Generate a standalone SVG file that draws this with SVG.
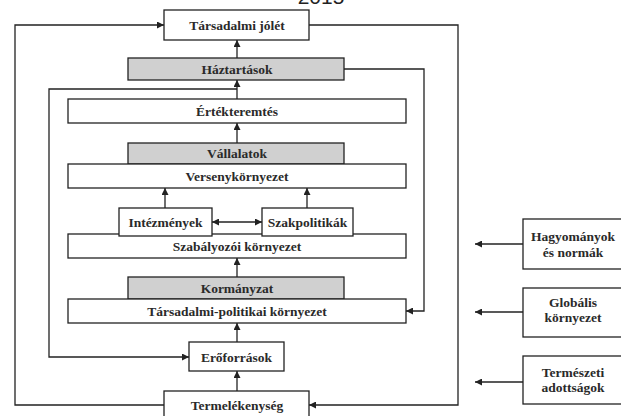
<svg xmlns="http://www.w3.org/2000/svg" width="621" height="416" viewBox="0 0 621 416">
<style>
.b{fill:#fff;stroke:#222;stroke-width:1.3}
.g{fill:#d0d0d0;stroke:#222;stroke-width:1.3}
.t{font-family:"Liberation Serif","DejaVu Serif",serif;font-size:13.5px;font-weight:bold;fill:#2a2a2a;text-anchor:middle}
.c{fill:none;stroke:#222;stroke-width:1.3}
</style>
<defs>
<marker id="a" viewBox="0 0 10 10" refX="10" refY="5" markerWidth="7" markerHeight="7" markerUnits="userSpaceOnUse" orient="auto-start-reverse">
<path d="M0,0 L10,5 L0,10 z" fill="#222"/>
</marker>
</defs>
<text x="321" y="4" font-family="Liberation Sans,Arial,sans-serif" font-size="21" fill="#222" text-anchor="middle">2015</text>
<g id="connectors">
<path class="c" d="M164,405 H15 V25 H164" marker-end="url(#a)"/>
<path class="c" d="M309,25 H458 V405 H309" marker-end="url(#a)"/>
<path class="c" d="M344,69 H424 V311 H406" marker-end="url(#a)"/>
<path class="c" d="M237,89 H49 V357 H189" marker-end="url(#a)"/>
<path class="c" d="M237,58 V40" marker-end="url(#a)"/>
<path class="c" d="M237,99 V80" marker-end="url(#a)"/>
<path class="c" d="M237,143 V123" marker-end="url(#a)"/>
<path class="c" d="M165,208 V188" marker-end="url(#a)"/>
<path class="c" d="M307,208 V188" marker-end="url(#a)"/>
<path class="c" d="M212,222 H262" marker-start="url(#a)" marker-end="url(#a)"/>
<path class="c" d="M237,277 V258" marker-end="url(#a)"/>
<path class="c" d="M237,342 V323" marker-end="url(#a)"/>
<path class="c" d="M237,391 V371" marker-end="url(#a)"/>
<path class="c" d="M523,244 H475" marker-end="url(#a)"/>
<path class="c" d="M523,312 H475" marker-end="url(#a)"/>
<path class="c" d="M523,382 H475" marker-end="url(#a)"/>
</g>
<g id="tarsadalmi-jolet"><rect class="b" x="164" y="10" width="145" height="30"/><text class="t" x="237" y="29.5">Társadalmi jólét</text></g>
<g id="haztartasok"><rect class="g" x="128" y="58" width="216" height="22"/><text class="t" x="237" y="73.5">Háztartások</text></g>
<g id="ertekteremtes"><rect class="b" x="68" y="99" width="338" height="24"/><text class="t" x="237" y="115.5">Értékteremtés</text></g>
<g id="vallalatok"><rect class="g" x="128" y="143" width="216" height="21"/><text class="t" x="237" y="158">Vállalatok</text></g>
<g id="versenykornyezet"><rect class="b" x="68" y="164" width="338" height="24"/><text class="t" x="237" y="180.5">Versenykörnyezet</text></g>
<g id="szabalyozoi"><rect class="b" x="68" y="234" width="338" height="24"/><text class="t" x="237" y="250.5">Szabályozói környezet</text></g>
<g id="intezmenyek"><rect class="b" x="119" y="208" width="93" height="28"/><text class="t" x="165.5" y="226.5">Intézmények</text></g>
<g id="szakpolitikak"><rect class="b" x="262" y="208" width="91" height="28"/><text class="t" x="307.5" y="226.5">Szakpolitikák</text></g>
<g id="kormanyzat"><rect class="g" x="128" y="277" width="216" height="22"/><text class="t" x="237" y="292.5">Kormányzat</text></g>
<g id="tarsadalmi-politikai"><rect class="b" x="68" y="299" width="338" height="24"/><text class="t" x="237" y="315.5">Társadalmi-politikai környezet</text></g>
<g id="eroforrasok"><rect class="b" x="189" y="342" width="95" height="29"/><text class="t" x="236.5" y="361.5">Erőforrások</text></g>
<g id="termelekenyseg"><rect class="b" x="164" y="391" width="145" height="30"/><text class="t" x="237" y="409.5">Termelékenység</text></g>
<g id="hagyomanyok"><rect class="b" x="523" y="219" width="110" height="50"/><text class="t" x="573" y="241">Hagyományok</text><text class="t" x="573" y="257">és normák</text></g>
<g id="globalis"><rect class="b" x="523" y="288" width="110" height="49"/><text class="t" x="573" y="307">Globális</text><text class="t" x="573" y="322">környezet</text></g>
<g id="termeszeti"><rect class="b" x="523" y="356" width="110" height="48"/><text class="t" x="573" y="377">Természeti</text><text class="t" x="573" y="392">adottságok</text></g>
</svg>
